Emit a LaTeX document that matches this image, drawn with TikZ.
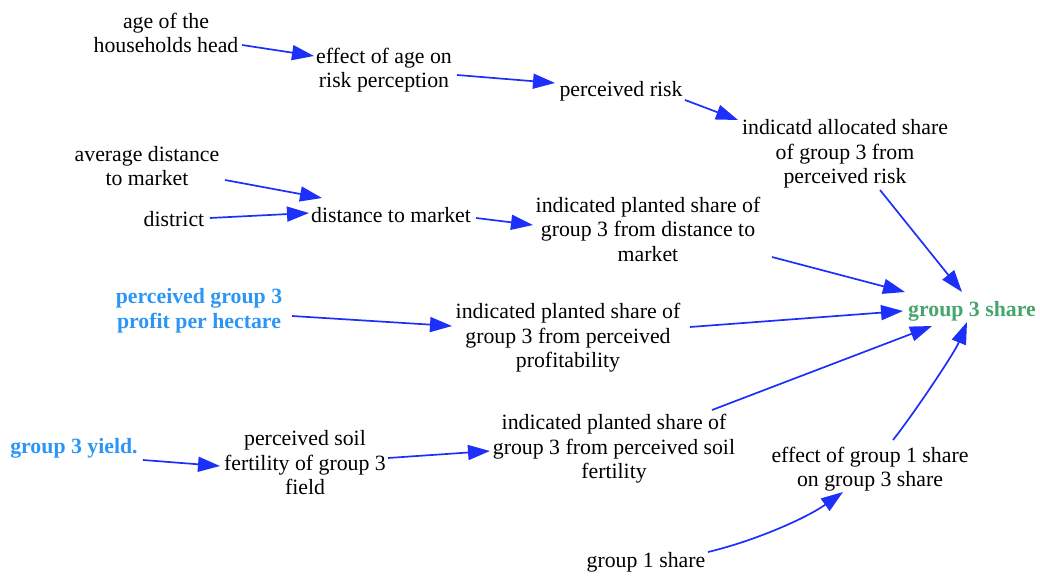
\documentclass[tikz,border=0pt]{standalone}
\usepackage{fontspec}
\setmainfont{Liberation Serif}
\usetikzlibrary{arrows.meta,calc}
\definecolor{linkblue}{RGB}{28,48,250}
\definecolor{inputblue}{RGB}{45,150,245}
\definecolor{stockgreen}{RGB}{70,165,110}
\tikzset{
  var/.style={align=center,inner sep=0pt,font=\fontsize{21.8}{24.5}\selectfont},
  inputvar/.style={var,text=inputblue,font=\fontsize{21.8}{24.5}\selectfont\bfseries},
  outvar/.style={var,text=stockgreen,font=\fontsize{21.8}{24.5}\selectfont\bfseries},
  link/.style={draw=linkblue,line width=1.7pt,-{Triangle[length=22pt,width=15pt]}},
}
\begin{document}
\begin{tikzpicture}[x=1pt,y=-1pt]
\useasboundingbox (0,0) rectangle (1040,577);

% variables
\node[var] (age) at (166,33) {age of the\\households head};
\node[var] (eff) at (384,70) {effect of age on\\risk perception};
\node[var] (pr) at (621,91) {perceived risk};
\node[var] (ind) at (845,154) {indicatd allocated share\\of group 3 from\\perceived risk};
\node[var] (avg) at (147,166) {average distance\\to market};
\node[var] (district) at (174,219) {district};
\node[var] (dist) at (391,215) {distance to market};
\node[var] (ipd) at (648,229) {indicated planted share of\\group 3 from distance to\\market};
\node[outvar] (g3) at (972,311) {group 3 share};
\node[inputvar] (ppr) at (199,311) {perceived group 3\\profit per hectare};
\node[var] (ipp) at (568,338) {indicated planted share of\\group 3 from perceived\\profitability};
\node[inputvar] (yield) at (74,448) {group 3 yield.};
\node[var] (pse) at (305,463) {perceived soil\\fertility of group 3\\field};
\node[var] (ips) at (614,449) {indicated planted share of\\group 3 from perceived soil\\fertility};
\node[var] (eg1) at (870,469) {effect of group 1 share\\on group 3 share};
\node[var] (g1) at (646,562) {group 1 share};

% causal links
\draw[link] ($(age)+(76,12)$) -- ($(eff)+(-70,-14)$);
\draw[link] ($(eff)+(73,5)$) -- ($(pr)+(-66,-8)$);
\draw[link] ($(pr)+(64,9)$) -- ($(ind)+(-107,-34)$);
\draw[link] ($(avg)+(78,14)$) -- ($(dist)+(-69,-17)$);
\draw[link] ($(district)+(36,-1)$) -- ($(dist)+(-82,-2)$);
\draw[link] ($(dist)+(85,3)$) -- ($(ipd)+(-115,-4)$);
\draw[link] ($(ipd)+(124,28)$) -- ($(g3)+(-67,-19)$);
\draw[link] ($(ind)+(35,36)$) -- ($(g3)+(-10,-19)$);
\draw[link] ($(ppr)+(93,5)$) -- ($(ipp)+(-116,-12)$);
\draw[link] ($(ipp)+(122,-11)$) -- ($(g3)+(-69,0)$);
\draw[link] ($(ips)+(98,-39)$) -- ($(g3)+(-40,15)$);
\draw[link] ($(eg1)+(23,-29)$) .. controls +(22,-28) and +(-12,30) .. ($(g3)+(-5,11)$);
\draw[link] ($(g1)+(62,-10)$) .. controls +(50,-12) and +(-35,25) .. ($(eg1)+(-27,23)$);
\draw[link] ($(yield)+(69,12)$) -- ($(pse)+(-85,3)$);
\draw[link] ($(pse)+(83,-5)$) -- ($(ips)+(-124,2)$);
\end{tikzpicture}
\end{document}
